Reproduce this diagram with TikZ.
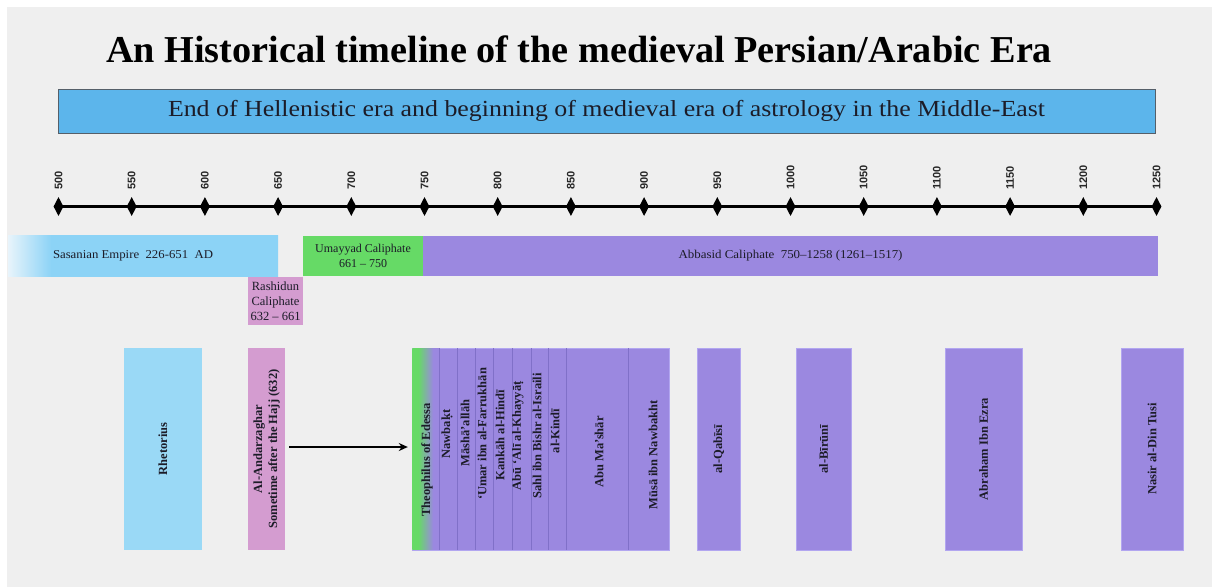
\documentclass[tikz,border=0pt]{standalone}
\usepackage{fontspec}
\setmainfont{Liberation Serif}
\newfontfamily\lsans{Liberation Sans}
\usepackage{graphicx}
\usetikzlibrary{shapes.geometric,arrows.meta}

\definecolor{bgc}{RGB}{239,239,239}
\definecolor{txt}{RGB}{28,28,40}
\definecolor{bannerblue}{RGB}{92,181,235}
\definecolor{bannerborder}{RGB}{85,95,105}
\definecolor{sasblue}{RGB}{140,211,246}
\definecolor{sasleft}{RGB}{232,244,251}
\definecolor{rhetblue}{RGB}{154,217,246}
\definecolor{ugreen}{RGB}{102,218,102}
\definecolor{apurple}{RGB}{155,136,224}
\definecolor{apline}{RGB}{128,112,200}
\definecolor{apedge}{RGB}{178,166,240}
\definecolor{rpink}{RGB}{212,156,208}

\pgfdeclarehorizontalshading{sasshade}{100bp}{color(0bp)=(sasleft); color(25bp)=(sasleft); color(33bp)=(sasblue); color(100bp)=(sasblue)}
\pgfdeclarehorizontalshading{theoshade}{100bp}{color(0bp)=(ugreen); color(36bp)=(ugreen); color(64bp)=(apurple); color(100bp)=(apurple)}

\newsavebox\fitbox
\newcommand\fitw[2]{\sbox\fitbox{#2}\pgfmathsetmacro\fitfac{#1/\the\wd\fitbox}\scalebox{\fitfac}[1]{\usebox\fitbox}}

\tikzset{
  tickmark/.style={diamond, fill=black, inner sep=0pt, minimum width=10pt, minimum height=19pt},
  yearlab/.style={rotate=90, anchor=west, inner sep=0pt, font=\lsans\fontsize{11}{12}\selectfont\bfseries, text=black!85},
  erabox/.style={rectangle, inner sep=0pt, minimum height=40.5pt, text=txt, align=center, font=\fontsize{12}{14.5}\selectfont},
  tallbox/.style={rectangle, inner sep=0pt, minimum height=202pt},
  pbox/.style={tallbox, fill=apurple, draw=apedge, line width=0.7pt},
  vlab/.style={rotate=90, inner sep=0pt, text=txt, align=center, font=\fontsize{12.5}{15}\selectfont\bfseries},
  sepline/.style={draw=apline, line width=0.6pt},
}

\begin{document}
\begin{tikzpicture}[x=1pt,y=-1pt]
\useasboundingbox (0,0) rectangle (1212,587);
\fill[white] (0,0) rectangle (1212,587);
\fill[bgc] (7,7) rectangle (1212,587);

% title and banner
\node[anchor=base, inner sep=0pt, text=black, font=\fontsize{38}{40}\selectfont\bfseries] (title) at (579,62)
  {\fitw{946}{An Historical timeline of the medieval Persian/Arabic Era}};
\node[fill=bannerblue, draw=bannerborder, line width=0.8pt, minimum width=1097pt, minimum height=44pt,
  inner sep=0pt, text=txt, font=\fontsize{23}{25}\selectfont] (banner) at (606.5,111)
  {\fitw{877}{End of Hellenistic era and beginning of medieval era of astrology in the Middle-East}};

% timeline
\foreach \yr [count=\i from 0] in {500,550,...,1250} {
  \pgfmathsetmacro\xx{58.5+73.2*\i}
  \node[tickmark] (t\yr) at (\xx,206.5) {};
  \node[yearlab] (y\yr) at (\xx,190) {\yr};
}
\draw[line width=3.5pt] (t500.center) -- (t1250.center);

% eras
\shade[shading=sasshade] (8,235.5) rectangle (278,276);
\node[erabox] (sas) at (133,256) {\fitw{160}{Sasanian Empire~~226-651~~AD}};
\node[erabox, fill=ugreen, minimum width=120pt] (umay) at (363,255.75) {Umayyad Caliphate\\661 -- 750};
\node[erabox, fill=apurple, minimum width=735pt] (abba) at (790.5,255.75) {\fitw{224}{Abbasid Caliphate~~750--1258 (1261--1517)}};
\node[erabox, fill=rpink, minimum width=55pt, minimum height=48pt, font=\fontsize{12.5}{15}\selectfont] (rash) at (275.5,301) {Rashidun\\Caliphate\\632 -- 661};

% lower boxes
\node[tallbox, fill=rhetblue, minimum width=77.5pt] (rhet) at (162.75,449) {};
\node[vlab] (rhetl) at (rhet.center) {Rhetorius};
\node[tallbox, fill=rpink, minimum width=37pt] (andz) at (266.5,449) {};
\node[vlab] (andzl) at (266.5,449) {Al-Andarzaghar\\Sometime after the Hajj (632)};

% group of Abbasid-era astrologers
\node[pbox, minimum width=257pt] (grp) at (540.5,449) {};
\shade[shading=theoshade] (412.4,348.4) rectangle (439,549.6);
\node[tallbox, minimum width=27pt] (theo) at (425.5,449) {};
\foreach \xs in {439,457,475,493,512,531,548,566,628} {
  \draw[sepline] (\xs,348.4) -- (\xs,549.6);
}
\node[vlab] (theol) at (427,460) {Theophilus of Edessa};
\node[vlab] (nawb) at (447,434) {Nawbaḳt};
\node[vlab] (mash) at (465,433) {Māshā’allāh};
\node[vlab] (umar) at (482,434) {‘Umar ibn al-Farrukhān};
\node[vlab] (kank) at (500,435) {Kankāh al-Hindī};
\node[vlab] (abua) at (518,436) {Abū ‘Alī al-Khayyāṭ};
\node[vlab] (sahl) at (537,436) {Sahl ibn Bishr al-Israili};
\node[vlab] (kind) at (555,431) {al-Kindī};
\node[vlab] (abum) at (599,452) {Abu Ma’shār};
\node[vlab] (musa) at (653,455) {Mūsā ibn Nawbakht};

\node[pbox, minimum width=42.5pt] (qabi) at (718.75,449) {};
\node[vlab] (qabil) at (qabi.center) {al-Qabīsī};
\node[pbox, minimum width=55pt] (biru) at (823.5,449) {};
\node[vlab] (birul) at (biru.center) {al-Bīrūnī};
\node[pbox, minimum width=77pt] (ezra) at (983.5,449) {};
\node[vlab] (ezral) at (ezra.center) {Abraham Ibn Ezra};
\node[pbox, minimum width=62pt] (tusi) at (1152,449) {};
\node[vlab] (tusil) at (tusi.center) {Nasir al-Din Tusi};

% arrow
\draw[line width=2pt, -{Stealth[length=9pt,width=8pt]}] ([xshift=4pt,yshift=2pt]andz.east) -- ([xshift=-4pt,yshift=2pt]theo.west);
\end{tikzpicture}
\end{document}
